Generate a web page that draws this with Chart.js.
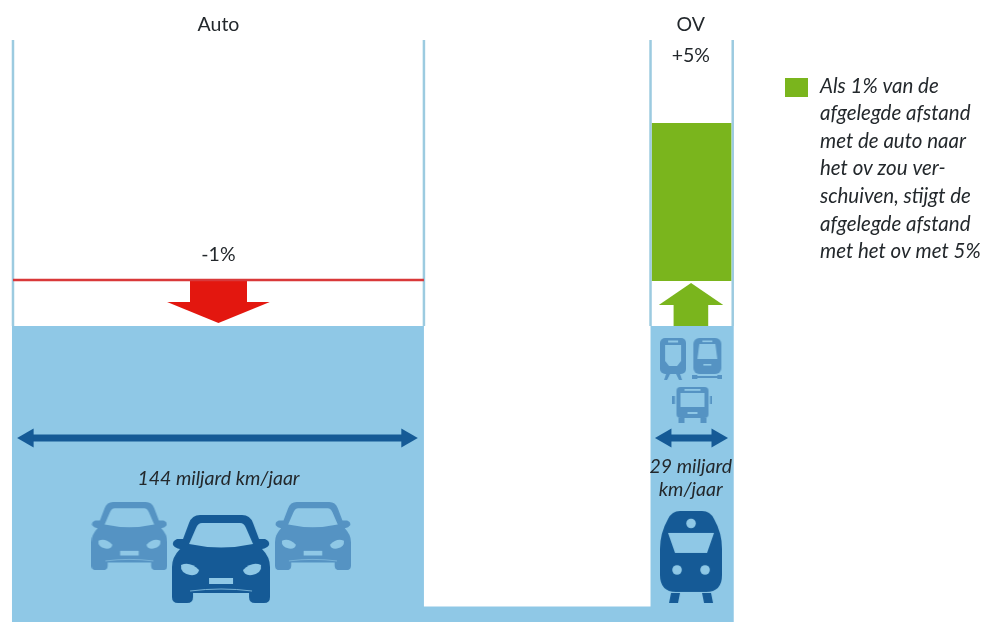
<!DOCTYPE html>
<html lang="nl">
<head>
<meta charset="utf-8">
<title>Auto en OV</title>
<script src="https://cdn.jsdelivr.net/npm/chart.js@4/dist/chart.umd.min.js"></script>
<style>
  html, body { margin: 0; background: #fff; }
  canvas { display: block; }
</style>
</head>
<body>
<canvas id="chart" width="981" height="622"></canvas>
<script>
// x as: miljard km/jaar (breedte bak), y as: procentpunten t.o.v. huidig niveau
const categories = ['Auto', 'OV'];
const distance = [144, 29];
const ovStart = 223.4;
const categoryCentres = [72, 237.5];
const changeLabels = ['-1%', '+5%'];
const changeLabelY = [1.54, 5.87];
const distanceLabels = [['144 miljard km/jaar'], ['29 miljard', 'km/jaar']];
const distanceLabelY = [[-3.33], [-3.07, -3.55]];
const legendLines = ['Als 1% van de', 'afgelegde afstand', 'met de auto naar', 'het ov zou ver-', 'schuiven, stijgt de', 'afgelegde afstand', 'met het ov met 5%'];

const level = 0;
const autoLevelAfter = 1;
const ovLevelAfter = 4.41;
const ovBarBottom = 0.98;
const channelFloor = -6.1;
const axisMin = -6.435;
const axisMax = 6.217;
const waterX = [-0.4, 144, 144, ovStart, ovStart, 252.6];
const waterY = [level, level, channelFloor, channelFloor, level, level];
const wallX = [0, 144, ovStart, 252.2];

const redShaftX = [62, 82];
const redHeadX = [54, 72, 90];
const redHeadY = [0.52, 0.065, 0.52];
const greenShaftX = [231.4, 243.7];
const greenHeadX = [226.3, 237.6, 248.9];
const greenHeadY = [0.457, 0.935, 0.457];
const spanY = -2.435;
const autoSpanX = [5.3, 138];
const ovSpanX = [228.8, 246.7];
const carsX = [40.8, 105.1];
const carsY = [-4.565, -4.565];
const mainCarX = [72.9];
const mainCarY = [-5.065];
const trainX = [237.6];
const trainY = [-5.02];
const tramX = [231.3, 243.3];
const tramY = [-0.717, -0.717];
const busX = [238.1];
const busY = [-1.717];

const WATER = '#8fc8e6';
const WALL = '#9ccbe0';
const DARK = '#155a96';
const MID = '#5593c3';
const RED = '#e3170f';
const REDLINE = '#d9383a';
const GREEN = '#7ab51d';
const INK = '#23282c';

const pts = (xs, ys) => xs.map((x, i) => ({ x, y: ys[i] }));

function band(xs, ys, base, color) {
    return {
        data: pts(xs, ys),
        borderWidth: 0,
        pointRadius: 0,
        backgroundColor: color,
        fill: { target: { value: base } }
    };
}

function rule(xs, ys, color, width) {
    return {
        data: pts(xs, ys),
        borderColor: color,
        borderWidth: width,
        pointRadius: 0,
        fill: false
    };
}

function span(xs) {
    return {
        data: pts(xs, [spanY, spanY]),
        borderColor: DARK,
        backgroundColor: DARK,
        borderWidth: 7,
        pointStyle: 'triangle',
        pointRadius: 11,
        pointBorderWidth: 0,
        pointRotation: [270, 90],
        fill: false
    };
}

function icons(xs, ys, image) {
    return {
        data: pts(xs, ys),
        showLine: false,
        pointStyle: image,
        pointRadius: 10,
        fill: false
    };
}

function sprite(w, h, scale, paint) {
    const c = document.createElement('canvas');
    c.width = Math.round(w * scale);
    c.height = Math.round(h * scale);
    const g = c.getContext('2d');
    g.scale(scale, scale);
    paint(g);
    return c;
}

function carIcon(color, scale) {
    return sprite(98, 88, scale, g => {
        g.fillStyle = color;
        g.beginPath();
        g.moveTo(28, 0);
        g.lineTo(70, 0);
        g.quadraticCurveTo(78, 0, 81, 8);
        g.lineTo(87, 24);
        g.lineTo(93, 24);
        g.quadraticCurveTo(98, 26, 97, 30);
        g.quadraticCurveTo(95, 33, 90, 34);
        g.quadraticCurveTo(98, 42, 98, 52);
        g.lineTo(98, 82);
        g.quadraticCurveTo(98, 88, 92, 88);
        g.lineTo(83, 88);
        g.quadraticCurveTo(77, 88, 77, 82);
        g.lineTo(77, 78);
        g.lineTo(21, 78);
        g.lineTo(21, 82);
        g.quadraticCurveTo(21, 88, 15, 88);
        g.lineTo(6, 88);
        g.quadraticCurveTo(0, 88, 0, 82);
        g.lineTo(0, 52);
        g.quadraticCurveTo(0, 42, 8, 34);
        g.quadraticCurveTo(3, 33, 1, 30);
        g.quadraticCurveTo(0, 26, 5, 24);
        g.lineTo(11, 24);
        g.lineTo(17, 8);
        g.quadraticCurveTo(20, 0, 28, 0);
        g.closePath();
        g.fill();

        g.fillStyle = WATER;
        // voorruit
        g.beginPath();
        g.moveTo(30, 8);
        g.lineTo(68, 8);
        g.quadraticCurveTo(72, 8, 74, 13);
        g.lineTo(81, 29);
        g.quadraticCurveTo(49, 36, 17, 29);
        g.lineTo(24, 13);
        g.quadraticCurveTo(26, 8, 30, 8);
        g.closePath();
        g.fill();
        // koplampen
        g.beginPath();
        g.moveTo(9, 50);
        g.quadraticCurveTo(18, 46, 27, 55);
        g.quadraticCurveTo(26, 61, 18, 60);
        g.quadraticCurveTo(8, 58, 9, 50);
        g.closePath();
        g.fill();
        g.beginPath();
        g.moveTo(89, 50);
        g.quadraticCurveTo(80, 46, 71, 55);
        g.quadraticCurveTo(72, 61, 80, 60);
        g.quadraticCurveTo(90, 58, 89, 50);
        g.closePath();
        g.fill();
        // kenteken en bumper
        g.fillRect(37, 63, 24, 6);
        g.strokeStyle = WATER;
        g.lineWidth = 0.8;
        g.beginPath();
        g.moveTo(18, 76);
        g.quadraticCurveTo(49, 72, 80, 76);
        g.stroke();
    });
}

function trainIcon() {
    return sprite(62, 92, 1, g => {
        g.fillStyle = DARK;
        g.beginPath();
        g.moveTo(20, 0);
        g.lineTo(42, 0);
        g.quadraticCurveTo(50, 0, 54, 8);
        g.quadraticCurveTo(62, 22, 62, 38);
        g.lineTo(62, 64);
        g.quadraticCurveTo(62, 81, 46, 81);
        g.lineTo(16, 81);
        g.quadraticCurveTo(0, 81, 0, 64);
        g.lineTo(0, 38);
        g.quadraticCurveTo(0, 22, 8, 8);
        g.quadraticCurveTo(12, 0, 20, 0);
        g.closePath();
        g.fill();
        g.beginPath();
        g.moveTo(11, 82);
        g.lineTo(20, 82);
        g.lineTo(18, 92);
        g.lineTo(9, 92);
        g.closePath();
        g.moveTo(42, 82);
        g.lineTo(51, 82);
        g.lineTo(53, 92);
        g.lineTo(44, 92);
        g.closePath();
        g.fill();
        g.fillStyle = WATER;
        g.beginPath();
        g.moveTo(8, 22);
        g.lineTo(54, 22);
        g.lineTo(47, 42);
        g.lineTo(15, 42);
        g.closePath();
        g.fill();
        [[31, 12.5], [17, 59], [45, 59]].forEach(p => {
            g.beginPath();
            g.arc(p[0], p[1], 4.8, 0, Math.PI * 2);
            g.fill();
        });
    });
}

function tramIcon() {
    return sprite(26, 42, 1, g => {
        g.fillStyle = MID;
        g.beginPath();
        g.roundRect(0, 0, 26, 36, 5);
        g.fill();
        g.beginPath();
        g.moveTo(4, 42);
        g.lineTo(6, 36);
        g.lineTo(10, 36);
        g.lineTo(7, 42);
        g.closePath();
        g.moveTo(22, 42);
        g.lineTo(20, 36);
        g.lineTo(16, 36);
        g.lineTo(19, 42);
        g.closePath();
        g.fill();
        g.fillStyle = WATER;
        g.beginPath();
        g.moveTo(5, 7);
        g.lineTo(21, 7);
        g.lineTo(21, 23);
        g.lineTo(17, 28);
        g.lineTo(9, 28);
        g.lineTo(5, 23);
        g.closePath();
        g.fill();
        g.fillRect(8, 2.5, 10, 2);
    });
}

function metroIcon() {
    return sprite(30, 42, 1, g => {
        g.fillStyle = MID;
        g.beginPath();
        g.roundRect(1, 0, 28, 36, 6);
        g.fill();
        g.fillRect(3, 38, 24, 2);
        g.fillRect(0, 37, 5, 4);
        g.fillRect(25, 37, 5, 4);
        g.fillStyle = WATER;
        g.beginPath();
        g.moveTo(7, 6);
        g.lineTo(23, 6);
        g.lineTo(25, 21);
        g.lineTo(5, 21);
        g.closePath();
        g.fill();
        g.fillRect(10, 2.5, 10, 1.6);
        g.fillRect(11, 26, 8, 1.6);
    });
}

function busIcon() {
    return sprite(40, 36, 1, g => {
        g.fillStyle = MID;
        g.beginPath();
        g.roundRect(4, 0, 32, 31, 4);
        g.fill();
        g.fillRect(0, 9, 2.5, 8);
        g.fillRect(37.5, 9, 2.5, 8);
        g.fillRect(6, 31, 6, 5);
        g.fillRect(28, 31, 6, 5);
        g.fillStyle = WATER;
        g.fillRect(8, 6, 24, 14);
        g.fillRect(12, 2, 16, 1.8);
        g.fillRect(15, 25, 10, 2);
    });
}

const textPlugin = {
    id: 'texts',
    afterDatasetsDraw(chart) {
        const g = chart.ctx;
        const x = chart.scales.x;
        const y = chart.scales.y;
        g.save();
        g.textAlign = 'center';
        g.textBaseline = 'middle';
        g.fillStyle = INK;

        g.font = '19.5px Lato, sans-serif';
        changeLabels.forEach((t, i) => {
            g.fillText(t, x.getPixelForValue(categoryCentres[i]), y.getPixelForValue(changeLabelY[i]));
        });

        g.font = 'italic 19.5px Lato, sans-serif';
        distanceLabels.forEach((lines, i) => {
            lines.forEach((t, j) => {
                g.fillText(t, x.getPixelForValue(categoryCentres[i]), y.getPixelForValue(distanceLabelY[i][j]));
            });
        });

        // legenda
        g.fillStyle = GREEN;
        g.fillRect(785, 78, 23, 19);
        g.fillStyle = INK;
        g.textAlign = 'left';
        g.font = 'italic 20.5px Lato, sans-serif';
        legendLines.forEach((t, i) => g.fillText(t, 820, 86 + i * 27.6));
        g.restore();
    }
};

new Chart(document.getElementById('chart'), {
    type: 'line',
    plugins: [textPlugin],
    data: {
        datasets: [
            icons(mainCarX, mainCarY, carIcon(DARK, 1)),
            icons(carsX, carsY, carIcon(MID, 76 / 98)),
            icons(trainX, trainY, trainIcon()),
            icons([tramX[0]], [tramY[0]], tramIcon()),
            icons([tramX[1]], [tramY[1]], metroIcon()),
            icons(busX, busY, busIcon()),
            span(autoSpanX),
            span(ovSpanX),
            rule([0, distance[0]], [autoLevelAfter, autoLevelAfter], REDLINE, 2.5),
            band(redShaftX, [autoLevelAfter, autoLevelAfter], redHeadY[0], RED),
            band(redHeadX, redHeadY, redHeadY[0], RED),
            band(greenShaftX, [greenHeadY[0], greenHeadY[0]], level, GREEN),
            band(greenHeadX, greenHeadY, greenHeadY[0], GREEN),
            band([ovStart + 0.4, ovStart + distance[1] - 0.6], [ovLevelAfter, ovLevelAfter], ovBarBottom, GREEN),
            ...wallX.map(x => rule([x, x], [level, axisMax], WALL, 2.5)),
            band(waterX, waterY, axisMin, WATER)
        ]
    },
    options: {
        responsive: false,
        animation: false,
        events: [],
        layout: { padding: 0, autoPadding: false },
        plugins: {
            legend: { display: false },
            tooltip: { enabled: false }
        },
        scales: {
            x: {
                type: 'linear',
                position: 'top',
                min: -4.55,
                max: 339.2,
                grid: { display: false, drawTicks: false },
                border: { display: false },
                afterBuildTicks: scale => {
                    scale.ticks = categoryCentres.map(value => ({ value }));
                },
                afterFit: scale => {
                    scale.height = 40;
                },
                ticks: {
                    autoSkip: false,
                    maxRotation: 0,
                    padding: 4,
                    color: INK,
                    font: { family: 'Lato, sans-serif', size: 19.5 },
                    callback: v => categories[categoryCentres.indexOf(v)]
                }
            },
            y: {
                display: false,
                min: axisMin,
                max: axisMax
            }
        }
    }
});
</script>
</body>
</html>
